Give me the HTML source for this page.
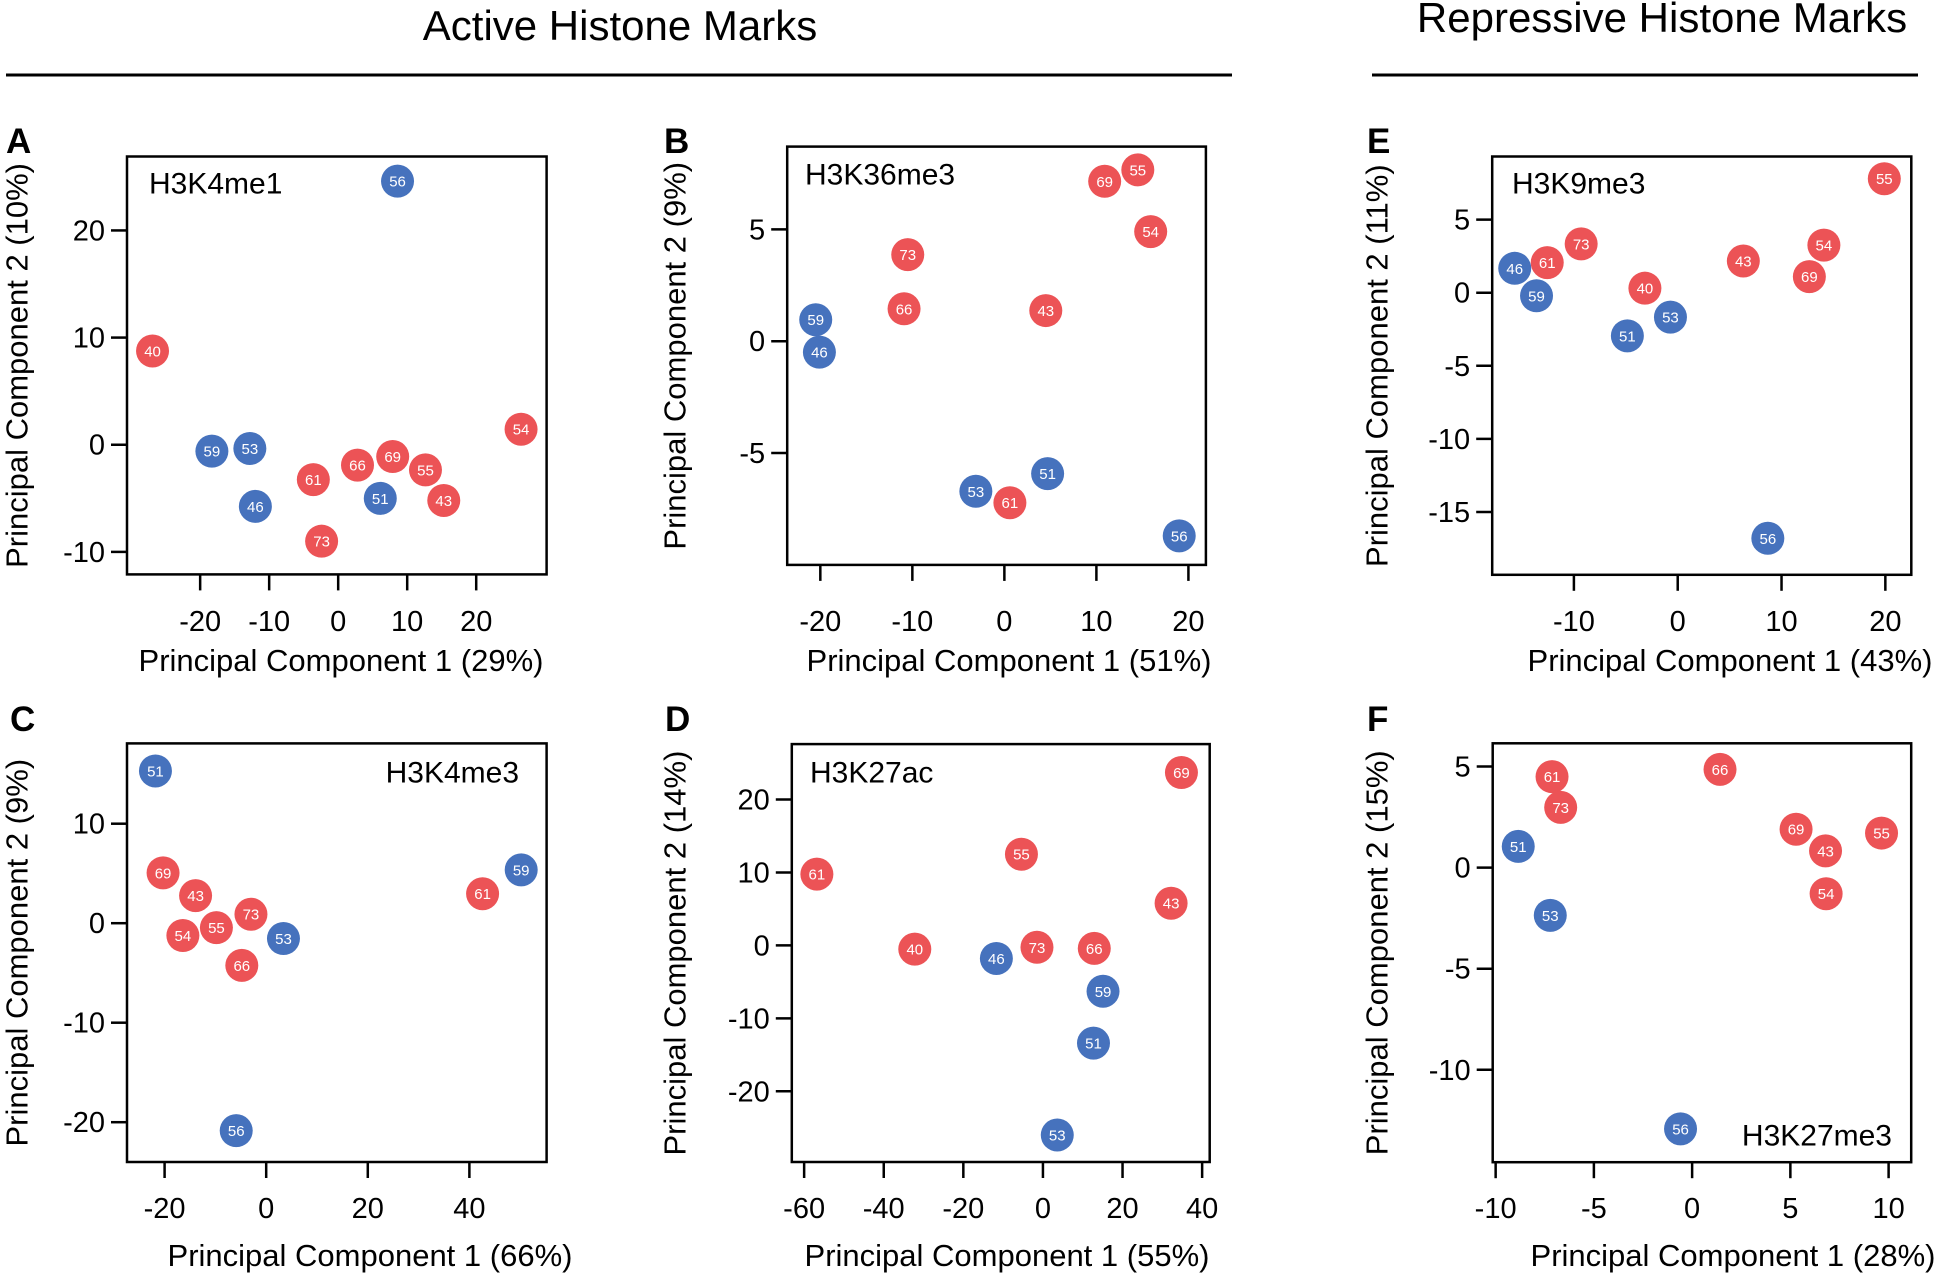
<!DOCTYPE html>
<html><head><meta charset="utf-8"><style>
html,body{margin:0;padding:0;background:#fff;}
svg{display:block;font-family:"Liberation Sans",Arial,sans-serif;}
</style></head><body>
<svg id="fig" width="1955" height="1276" viewBox="0 0 1955 1276" xmlns="http://www.w3.org/2000/svg">
<text x="620" y="40" font-size="42" text-anchor="middle" fill="#000">Active Histone Marks</text>
<line x1="6" y1="75" x2="1232" y2="75" stroke="#000" stroke-width="3"/>
<text x="1662" y="32" font-size="42" text-anchor="middle" fill="#000">Repressive Histone Marks</text>
<line x1="1372" y1="75" x2="1918" y2="75" stroke="#000" stroke-width="3"/>
</svg>
<script>
// Panel A: H3K4me1
const aIds = ["56","40","59","53","46","61","66","69","55","43","51","73","54"];
const aPC1 = [8.6,-26.9,-18.3,-12.8,-12.0,-3.6,2.8,7.9,12.65,15.3,6.1,-2.4,26.5];
const aPC2 = [24.6,8.75,-0.6,-0.35,-5.75,-3.25,-1.9,-1.1,-2.35,-5.2,-5.0,-9.0,1.45];
const aGroup = ["b","r","b","b","b","r","r","r","r","r","b","r","r"];
const aXTicks = [-20,-10,0,10,20];
const aYTicks = [-10,0,10,20];
// Panel B: H3K36me3
const bIds = ["55","69","54","73","66","43","59","46","51","53","61","56"];
const bPC1 = [14.5,10.9,15.9,-10.5,-10.9,4.5,-20.5,-20.1,4.7,-3.1,0.6,19.0];
const bPC2 = [7.66,7.15,4.9,3.87,1.45,1.37,0.96,-0.49,-5.92,-6.71,-7.22,-8.7];
const bGroup = ["r","r","r","r","r","r","b","b","b","b","r","b"];
const bXTicks = [-20,-10,0,10,20];
const bYTicks = [-5,0,5];
// Panel E: H3K9me3
const eIds = ["55","73","54","61","43","46","69","40","59","53","51","56"];
const ePC1 = [19.9,-9.3,14.08,-12.57,6.32,-15.7,12.68,-3.16,-13.6,-0.7,-4.85,8.68];
const ePC2 = [7.8,3.34,3.26,2.06,2.17,1.67,1.10,0.31,-0.21,-1.67,-2.95,-16.8];
const eGroup = ["r","r","r","r","r","b","r","r","b","b","b","b"];
const eXTicks = [-10,0,10,20];
const eYTicks = [-15,-10,-5,0,5];
// Panel C: H3K4me3
const cIds = ["51","69","43","73","55","54","53","66","59","61","56"];
const cPC1 = [-21.8,-20.3,-13.9,-3.0,-9.8,-16.4,3.4,-4.8,50.2,42.6,-5.9];
const cPC2 = [15.3,5.06,2.77,0.9,-0.45,-1.24,-1.54,-4.24,5.36,2.96,-20.85];
const cGroup = ["b","r","r","r","r","r","b","r","b","r","b"];
const cXTicks = [-20,0,20,40];
const cYTicks = [-20,-10,0,10];
// Panel D: H3K27ac
const dIds = ["69","55","61","43","40","73","66","46","59","51","53"];
const dPC1 = [34.8,-5.4,-56.8,32.2,-32.2,-1.5,12.9,-11.7,15.1,12.7,3.6];
const dPC2 = [23.7,12.5,9.77,5.78,-0.51,-0.26,-0.41,-1.79,-6.29,-13.4,-26.0];
const dGroup = ["r","r","r","r","r","r","r","b","b","b","b"];
const dXTicks = [-60,-40,-20,0,20,40];
const dYTicks = [-20,-10,0,10,20];
// Panel F: H3K27me3
const fIds = ["61","73","66","51","53","69","55","43","54","56"];
const fPC1 = [-7.13,-6.69,1.42,-8.85,-7.22,5.29,9.64,6.79,6.82,-0.59];
const fPC2 = [4.5,2.98,4.86,1.05,-2.36,1.9,1.71,0.83,-1.29,-12.92];
const fGroup = ["r","r","r","b","b","r","r","r","r","b"];
const fXTicks = [-10,-5,0,5,10];
const fYTicks = [-10,-5,0,5];

const NS = "http://www.w3.org/2000/svg";
const svg = document.getElementById("fig");
function mk(tag, attrs, parent){
  const el = document.createElementNS(NS, tag);
  for (const k in attrs) el.setAttribute(k, attrs[k]);
  (parent||svg).appendChild(el);
  return el;
}
const COLORS = {r:"#ec5356", b:"#4672bd"};

function panel(cfg){
  const g = mk("g", {});
  
  
  const sx = v => cfg.L + (v - cfg.xmin) / (cfg.xmax - cfg.xmin) * (cfg.R - cfg.L);
  const sy = v => cfg.B - (v - cfg.ymin) / (cfg.ymax - cfg.ymin) * (cfg.B - cfg.T);
  const box = mk("rect", {x:cfg.L, y:cfg.T, width:cfg.R-cfg.L, height:cfg.B-cfg.T, fill:"none", stroke:"#000", "stroke-width":2.5}, g);
  
  
  cfg.xt.forEach(t => {
    const x = sx(t);
    const tk = mk("line", {x1:x, x2:x, y1:cfg.B, y2:cfg.B+16, stroke:"#000", "stroke-width":2.5}, g);
    
    
    const tl = mk("text", {x:x, y:cfg.tly, "font-size":29, "text-anchor":"middle"}, g);
    tl.textContent = String(t);
    
    
  });
  cfg.yt.forEach(t => {
    const y = sy(t);
    const tk = mk("line", {x1:cfg.L-16, x2:cfg.L, y1:y, y2:y, stroke:"#000", "stroke-width":2.5}, g);
    
    
    const tl = mk("text", {x:cfg.L-22, y:y+10, "font-size":29, "text-anchor":"end"}, g);
    tl.textContent = String(t);
    
    
  });
  const xl = mk("text", {x:cfg.xlx, y:cfg.xly, "font-size":31, "text-anchor":"middle"}, g);
  xl.textContent = cfg.xlabel;
  
  
  const cy = (cfg.T + cfg.B)/2;
  const yl = mk("text", {x:cfg.ylx, y:cy, "font-size":31, "text-anchor":"middle", transform:`rotate(-90 ${cfg.ylx} ${cy})`, "dominant-baseline":"central"}, g);
  yl.textContent = cfg.ylabel;
  
  
  const pl = mk("text", {x:cfg.px, y:cfg.py, "font-size":35, "font-weight":"bold"}, g);
  pl.textContent = cfg.letter;
  
  
  const an = mk("text", {x:cfg.ax, y:cfg.ay, "font-size":30, "text-anchor":cfg.aa}, g);
  an.textContent = cfg.mark;
  
  
  cfg.ids.forEach((id, i) => {
    const x = sx(cfg.px1[i]), y = sy(cfg.px2[i]);
    const c = mk("circle", {cx:x, cy:y, r:16.5, fill:COLORS[cfg.grp[i]]}, g);
    
    
    const t = mk("text", {x:x, y:y+5.5, "font-size":15, fill:"#fff", "text-anchor":"middle"}, g);
    t.textContent = id;
    
    
  });
}

panel({key:"a", letter:"A", mark:"H3K4me1", ids:aIds, px1:aPC1, px2:aPC2, grp:aGroup, xt:aXTicks, yt:aYTicks,
  L:127,R:546.6,T:156.5,B:574.4, xmin:-30.6,xmax:30.2,ymin:-12.1,ymax:26.9,
  xlabel:"Principal Component 1 (29%)", ylabel:"Principal Component 2 (10%)", xlx:341, xly:671, tly:631, ylx:17,
  px:6, py:153, ax:149, ay:193.5, aa:"start"});
panel({key:"b", letter:"B", mark:"H3K36me3", ids:bIds, px1:bPC1, px2:bPC2, grp:bGroup, xt:bXTicks, yt:bYTicks,
  L:787.2,R:1205.9,T:146.6,B:564.9, xmin:-23.6,xmax:21.9,ymin:-10.0,ymax:8.7,
  xlabel:"Principal Component 1 (51%)", ylabel:"Principal Component 2 (9%)", xlx:1009, xly:671, tly:631, ylx:675,
  px:664, py:153, ax:805, ay:184.7, aa:"start"});
panel({key:"e", letter:"E", mark:"H3K9me3", ids:eIds, px1:ePC1, px2:ePC2, grp:eGroup, xt:eXTicks, yt:eYTicks,
  L:1492.2,R:1911.3,T:156.5,B:574.8, xmin:-17.87,xmax:22.5,ymin:-19.3,ymax:9.32,
  xlabel:"Principal Component 1 (43%)", ylabel:"Principal Component 2 (11%)", xlx:1730, xly:671, tly:631, ylx:1377,
  px:1367, py:153, ax:1512, ay:193.5, aa:"start"});
panel({key:"c", letter:"C", mark:"H3K4me3", ids:cIds, px1:cPC1, px2:cPC2, grp:cGroup, xt:cXTicks, yt:cYTicks,
  L:127,R:546.6,T:743.4,B:1162, xmin:-27.4,xmax:55.2,ymin:-24.0,ymax:18.07,
  xlabel:"Principal Component 1 (66%)", ylabel:"Principal Component 2 (9%)", xlx:370, xly:1266, tly:1218, ylx:17,
  px:10, py:731, ax:519, ay:782.5, aa:"end"});
panel({key:"d", letter:"D", mark:"H3K27ac", ids:dIds, px1:dPC1, px2:dPC2, grp:dGroup, xt:dXTicks, yt:dYTicks,
  L:791.8,R:1209.7,T:744.1,B:1162, xmin:-63.1,xmax:41.9,ymin:-29.7,ymax:27.6,
  xlabel:"Principal Component 1 (55%)", ylabel:"Principal Component 2 (14%)", xlx:1007, xly:1266, tly:1218, ylx:675,
  px:665, py:731, ax:810, ay:782.5, aa:"start"});
panel({key:"f", letter:"F", mark:"H3K27me3", ids:fIds, px1:fPC1, px2:fPC2, grp:fGroup, xt:fXTicks, yt:fYTicks,
  L:1492.7,R:1911.2,T:743.3,B:1162.2, xmin:-10.15,xmax:11.15,ymin:-14.57,ymax:6.15,
  xlabel:"Principal Component 1 (28%)", ylabel:"Principal Component 2 (15%)", xlx:1733, xly:1266, tly:1218, ylx:1377,
  px:1367, py:731, ax:1892, ay:1145.7, aa:"end"});
</script>
</body></html>
